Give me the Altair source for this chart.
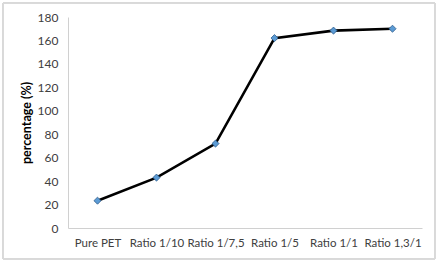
import altair as alt
import pandas as pd

categories = ["Pure PET", "Ratio 1/10", "Ratio 1/7,5", "Ratio 1/5", "Ratio 1/1", "Ratio 1,3/1"]
values = [23.3, 43, 72, 162, 168.4, 170]
y_ticks = [0, 20, 40, 60, 80, 100, 120, 140, 160, 180]

df = pd.DataFrame({"cat": categories, "val": values})

FONT = "Lato"
W, H = 354, 211

x = alt.X("cat:N", sort=categories, title=None,
          scale=alt.Scale(type="point", padding=0.5),
          axis=alt.Axis(labelAngle=0, ticks=False, domainColor="#d0d0d0", domainWidth=1,
                        labelColor="#404040", labelFont=FONT, labelFontSize=11.5, labelPadding=9))
y = alt.Y("val:Q", title="percentage (%)",
          scale=alt.Scale(domain=[0, 180], nice=False),
          axis=alt.Axis(values=y_ticks, ticks=False, grid=False, domainColor="#d0d0d0",
                        labelColor="#404040", labelFont=FONT, labelFontSize=12, labelPadding=10,
                        titleFont=FONT, titleFontSize=12.5, titleFontWeight="bold", titleColor="#000000",
                        titlePadding=4))

frame = alt.Chart(df).mark_rect(fill=None, stroke="#d9d9d9", strokeWidth=1, clip=False).encode(
    x=alt.value(-65), x2=alt.value(W + 13), y=alt.value(-14), y2=alt.value(H + 31)
)

line = alt.Chart(df).mark_line(color="#000000", strokeWidth=2.6).encode(x=x, y=y)
pts = alt.Chart(df).mark_point(shape="diamond", filled=True, fill="#5b9bd5", stroke="#2e5c8a",
                               strokeWidth=0.8, size=50, opacity=1).encode(x=x, y=y)

chart = alt.layer(frame, line, pts).properties(
    width=W, height=H,
    padding={"left": 68, "top": 17, "right": 16, "bottom": 35},
    autosize=alt.AutoSizeParams(type="none"),
    background="white",
).configure_view(stroke=None)

chart.save("out.html", embed_options={"renderer": "svg", "actions": False})
